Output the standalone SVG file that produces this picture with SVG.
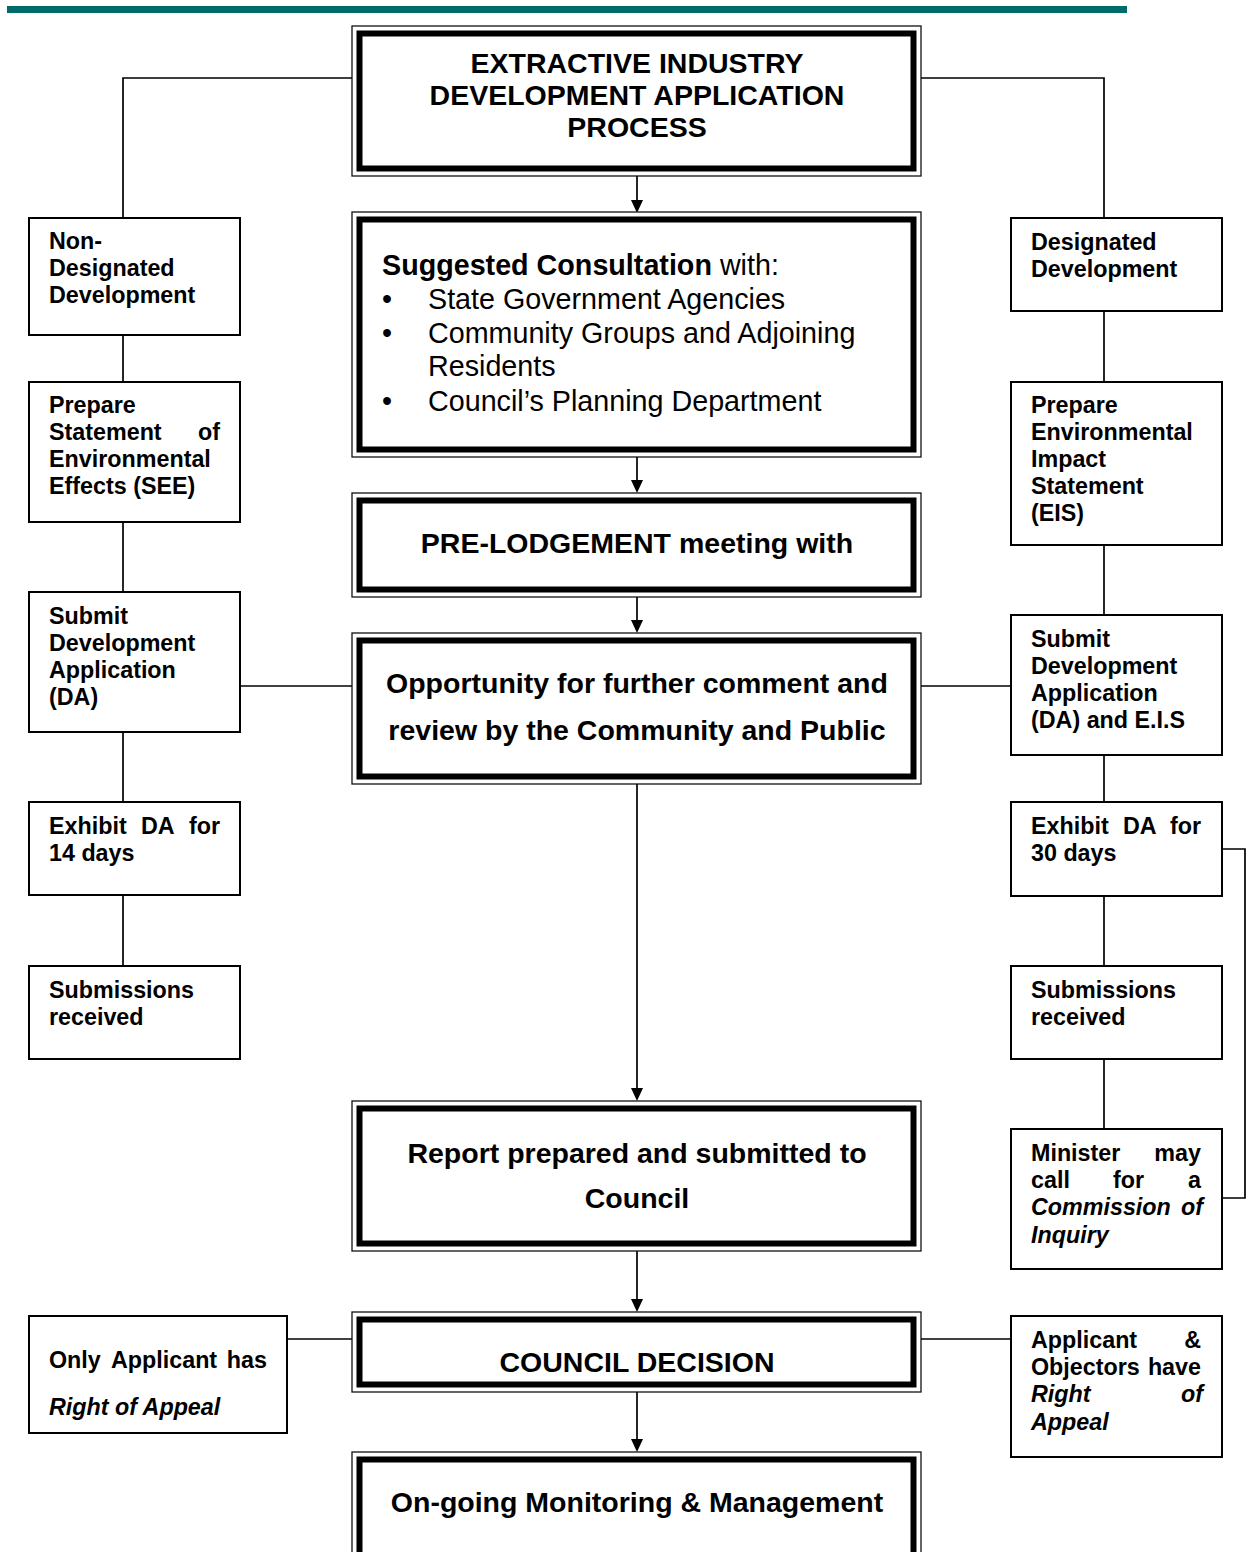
<svg xmlns="http://www.w3.org/2000/svg" width="1249" height="1552" viewBox="0 0 1249 1552">
<style>
.s{font-family:"Liberation Sans",Arial,sans-serif;font-weight:bold;font-size:23.3px;fill:#000}
.c{font-family:"Liberation Sans",Arial,sans-serif;font-weight:bold;font-size:28.5px;fill:#000;text-anchor:middle}
.r{font-family:"Liberation Sans",Arial,sans-serif;font-size:28.7px;fill:#000}
.i{font-style:italic}
.e{text-anchor:end}
.box{fill:#fff;stroke:#000;stroke-width:2}
.o{fill:#fff;stroke:#111;stroke-width:1.3}
.k{fill:none;stroke:#000;stroke-width:6}
.ln{fill:none;stroke:#000;stroke-width:1.7}
</style>
<rect x="7" y="6" width="1120" height="7" fill="#006B68"/>

<g id="connectors">
<polyline class="ln" points="352,78 123,78 123,218"/>
<polyline class="ln" points="921,78 1104,78 1104,218"/>
<line class="ln" x1="123" y1="335" x2="123" y2="382"/>
<line class="ln" x1="123" y1="522" x2="123" y2="592"/>
<line class="ln" x1="123" y1="732" x2="123" y2="802"/>
<line class="ln" x1="123" y1="895" x2="123" y2="966"/>
<line class="ln" x1="1104" y1="311" x2="1104" y2="382"/>
<line class="ln" x1="1104" y1="545" x2="1104" y2="615"/>
<line class="ln" x1="1104" y1="755" x2="1104" y2="802"/>
<line class="ln" x1="1104" y1="896" x2="1104" y2="966"/>
<line class="ln" x1="1104" y1="1059" x2="1104" y2="1129"/>
<polyline class="ln" points="1222,849 1245,849 1245,1198 1222,1198"/>
<line class="ln" x1="240" y1="686" x2="352" y2="686"/>
<line class="ln" x1="921" y1="686" x2="1011" y2="686"/>
<line class="ln" x1="287" y1="1339" x2="352" y2="1339"/>
<line class="ln" x1="921" y1="1339" x2="1011" y2="1339"/>
<line class="ln" x1="637" y1="176" x2="637" y2="200"/>
<path d="M631,200 L643,200 L637,213 Z"/>
<line class="ln" x1="637" y1="457" x2="637" y2="481"/>
<path d="M631,480 L643,480 L637,493 Z"/>
<line class="ln" x1="637" y1="597" x2="637" y2="621"/>
<path d="M631,620 L643,620 L637,633 Z"/>
<line class="ln" x1="637" y1="784" x2="637" y2="1089"/>
<path d="M631,1088 L643,1088 L637,1101 Z"/>
<line class="ln" x1="637" y1="1251" x2="637" y2="1300"/>
<path d="M631,1299 L643,1299 L637,1312 Z"/>
<line class="ln" x1="637" y1="1392" x2="637" y2="1440"/>
<path d="M631,1439 L643,1439 L637,1452 Z"/>
</g>

<g id="n-title">
<rect class="o" x="352" y="26" width="569" height="150"/>
<rect class="k" x="359.5" y="33.5" width="554" height="135"/>
<text class="c" x="637" y="73">EXTRACTIVE INDUSTRY</text>
<text class="c" x="637" y="105">DEVELOPMENT APPLICATION</text>
<text class="c" x="637" y="137">PROCESS</text>
</g>

<g id="n-consult">
<rect class="o" x="352" y="212" width="569" height="245"/>
<rect class="k" x="359.5" y="219.5" width="554" height="230"/>
<text class="r" x="382" y="275"><tspan font-weight="bold">Suggested Consultation</tspan> with:</text>
<text class="r" x="382" y="309">•</text><text class="r" x="428" y="309">State Government Agencies</text>
<text class="r" x="382" y="343">•</text><text class="r" x="428" y="343">Community Groups and Adjoining</text>
<text class="r" x="428" y="376">Residents</text>
<text class="r" x="382" y="411">•</text><text class="r" x="428" y="411">Council’s Planning Department</text>
</g>

<g id="n-prelodge">
<rect class="o" x="352" y="493" width="569" height="104"/>
<rect class="k" x="359.5" y="500.5" width="554" height="89"/>
<text class="c" x="637" y="553">PRE-LODGEMENT meeting with</text>
</g>

<g id="n-opportunity">
<rect class="o" x="352" y="633" width="569" height="151"/>
<rect class="k" x="359.5" y="640.5" width="554" height="136"/>
<text class="c" x="637" y="693">Opportunity for further comment and</text>
<text class="c" x="637" y="740">review by the Community and Public</text>
</g>

<g id="n-report">
<rect class="o" x="352" y="1101" width="569" height="150"/>
<rect class="k" x="359.5" y="1108.5" width="554" height="135"/>
<text class="c" x="637" y="1163">Report prepared and submitted to</text>
<text class="c" x="637" y="1208">Council</text>
</g>

<g id="n-decision">
<rect class="o" x="352" y="1312" width="569" height="80"/>
<rect class="k" x="359.5" y="1319.5" width="554" height="65"/>
<text class="c" x="637" y="1372">COUNCIL DECISION</text>
</g>

<g id="n-monitor">
<rect class="o" x="352" y="1452" width="569" height="150"/>
<rect class="k" x="359.5" y="1459.5" width="554" height="135"/>
<text class="c" x="637" y="1512">On-going Monitoring &amp; Management</text>
</g>

<g id="n-nondesignated">
<rect class="box" x="29" y="218" width="211" height="117"/>
<text class="s" x="49" y="249">Non-</text>
<text class="s" x="49" y="276">Designated</text>
<text class="s" x="49" y="303">Development</text>
</g>

<g id="n-see">
<rect class="box" x="29" y="382" width="211" height="140"/>
<text class="s" x="49" y="413">Prepare</text>
<text class="s" x="49" y="440">Statement</text><text class="s e" x="220" y="440">of</text>
<text class="s" x="49" y="467">Environmental</text>
<text class="s" x="49" y="494">Effects (SEE)</text>
</g>

<g id="n-submit-da">
<rect class="box" x="29" y="592" width="211" height="140"/>
<text class="s" x="49" y="624">Submit</text>
<text class="s" x="49" y="651">Development</text>
<text class="s" x="49" y="678">Application</text>
<text class="s" x="49" y="705">(DA)</text>
</g>

<g id="n-exhibit14">
<rect class="box" x="29" y="802" width="211" height="93"/>
<text class="s" x="49" y="834">Exhibit</text><text class="s" x="141" y="834">DA</text><text class="s e" x="220" y="834">for</text>
<text class="s" x="49" y="861">14 days</text>
</g>

<g id="n-submissions-left">
<rect class="box" x="29" y="966" width="211" height="93"/>
<text class="s" x="49" y="998">Submissions</text>
<text class="s" x="49" y="1025">received</text>
</g>

<g id="n-appeal-left">
<rect class="box" x="29" y="1316" width="258" height="117"/>
<text class="s" x="49" y="1368">Only</text><text class="s" x="111" y="1368">Applicant</text><text class="s e" x="267" y="1368">has</text>
<text class="s i" x="49" y="1415">Right of Appeal</text>
</g>

<g id="n-designated">
<rect class="box" x="1011" y="218" width="211" height="93"/>
<text class="s" x="1031" y="250">Designated</text>
<text class="s" x="1031" y="277">Development</text>
</g>

<g id="n-eis">
<rect class="box" x="1011" y="382" width="211" height="163"/>
<text class="s" x="1031" y="413">Prepare</text>
<text class="s" x="1031" y="440">Environmental</text>
<text class="s" x="1031" y="467">Impact</text>
<text class="s" x="1031" y="494">Statement</text>
<text class="s" x="1031" y="521">(EIS)</text>
</g>

<g id="n-submit-da-eis">
<rect class="box" x="1011" y="615" width="211" height="140"/>
<text class="s" x="1031" y="647">Submit</text>
<text class="s" x="1031" y="674">Development</text>
<text class="s" x="1031" y="701">Application</text>
<text class="s" x="1031" y="728">(DA) and E.I.S</text>
</g>

<g id="n-exhibit30">
<rect class="box" x="1011" y="802" width="211" height="94"/>
<text class="s" x="1031" y="834">Exhibit</text><text class="s" x="1123" y="834">DA</text><text class="s e" x="1201" y="834">for</text>
<text class="s" x="1031" y="861">30 days</text>
</g>

<g id="n-submissions-right">
<rect class="box" x="1011" y="966" width="211" height="93"/>
<text class="s" x="1031" y="998">Submissions</text>
<text class="s" x="1031" y="1025">received</text>
</g>

<g id="n-minister">
<rect class="box" x="1011" y="1129" width="211" height="140"/>
<text class="s" x="1031" y="1161">Minister</text><text class="s e" x="1201" y="1161">may</text>
<text class="s" x="1031" y="1188">call</text><text class="s" x="1113" y="1188">for</text><text class="s e" x="1201" y="1188">a</text>
<text class="s i" x="1031" y="1215">Commission</text><text class="s i e" x="1203" y="1215">of</text>
<text class="s i" x="1031" y="1243">Inquiry</text>
</g>

<g id="n-appeal-right">
<rect class="box" x="1011" y="1316" width="211" height="141"/>
<text class="s" x="1031" y="1348">Applicant</text><text class="s e" x="1201" y="1348">&amp;</text>
<text class="s" x="1031" y="1375">Objectors</text><text class="s e" x="1201" y="1375">have</text>
<text class="s i" x="1031" y="1402">Right</text><text class="s i e" x="1203" y="1402">of</text>
<text class="s i" x="1031" y="1430">Appeal</text>
</g>
</svg>
